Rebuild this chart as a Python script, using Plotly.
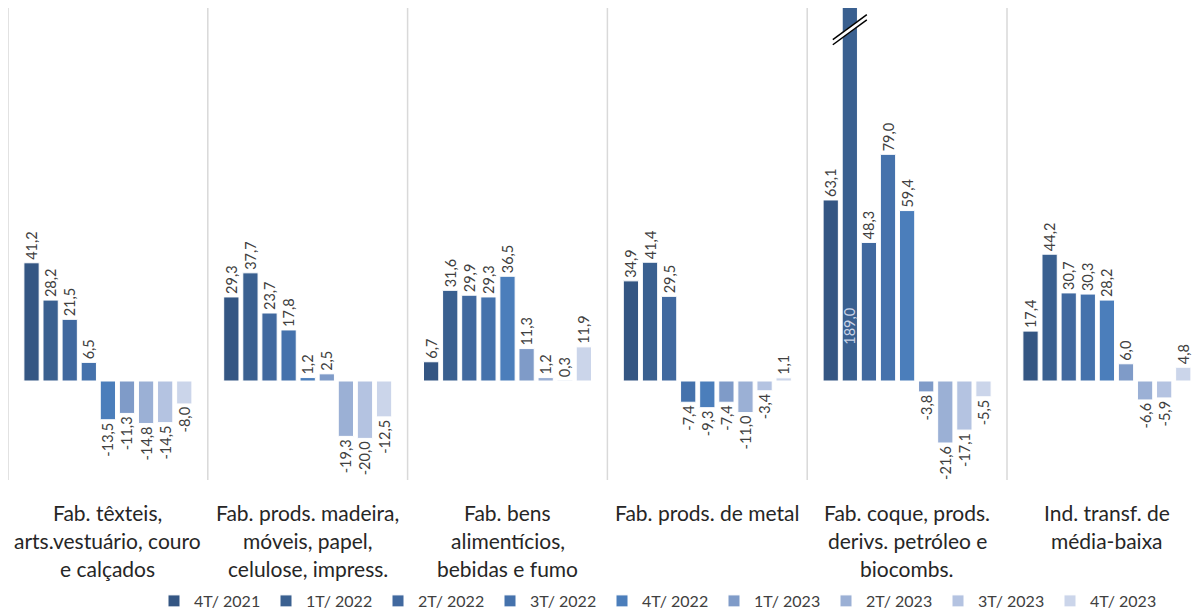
import plotly.graph_objects as go

# Sector categories (line breaks as shown under each group)
categories = [
    "Fab. têxteis,<br>arts.vestuário, couro<br>e calçados",
    "Fab. prods. madeira,<br>móveis, papel,<br>celulose, impress.",
    "Fab. bens<br>alimentícios,<br>bebidas e fumo",
    "Fab. prods. de metal",
    "Fab. coque, prods.<br>derivs. petróleo e<br>biocombs.",
    "Ind. transf. de<br>média-baixa",
]

periods = ["4T/ 2021", "1T/ 2022", "2T/ 2022", "3T/ 2022", "4T/ 2022",
           "1T/ 2023", "2T/ 2023", "3T/ 2023", "4T/ 2023"]

# Values per period, one entry per sector
v_4t21 = [41.2, 29.3, 6.7, 34.9, 63.1, 17.4]
v_1t22 = [28.2, 37.7, 31.6, 41.4, 189.0, 44.2]
v_2t22 = [21.5, 23.7, 29.9, 29.5, 48.3, 30.7]
v_3t22 = [6.5, 17.8, 29.3, -7.4, 79.0, 30.3]
v_4t22 = [-13.5, 1.2, 36.5, -9.3, 59.4, 28.2]
v_1t23 = [-11.3, 2.5, 11.3, -7.4, -3.8, 6.0]
v_2t23 = [-14.8, -19.3, 1.2, -11.0, -21.6, -6.6]
v_3t23 = [-14.5, -20.0, 0.3, -3.4, -17.1, -5.9]
v_4t23 = [-8.0, -12.5, 11.9, 1.1, -5.5, 4.8]

series = [v_4t21, v_1t22, v_2t22, v_3t22, v_4t22, v_1t23, v_2t23, v_3t23, v_4t23]

colors = ["#345683", "#3a6090", "#41699f", "#4572ac", "#4b7ebb",
          "#7f9bc8", "#9bb0d5", "#b4c3e1", "#cbd5ea"]

Y_MIN, Y_MAX = -34.5, 130.0
BARGAP = 0.14
n_series = len(series)
slot = (1 - BARGAP) / n_series


def fmt(v):
    return f"{v:.1f}".replace(".", ",")


x_idx = list(range(len(categories)))
fig = go.Figure()

overflow = []  # (series index, category index, value) for bars beyond the axis
for s, (name, vals, col) in enumerate(zip(periods, series, colors)):
    texts = []
    for c, v in enumerate(vals):
        if v > Y_MAX:
            overflow.append((s, c, v))
            texts.append("")
        else:
            texts.append(fmt(v))
    fig.add_trace(go.Bar(
        name=name, x=x_idx, y=vals,
        marker=dict(color=col, line=dict(color="white", width=1)),
        text=texts, textposition="outside", textangle=-90,
        constraintext="none",
        textfont=dict(family="Lato", size=14.5, color="#404040"),
        cliponaxis=False,
    ))

shapes = []
# Light separators between the sector groups
for k in range(len(categories)):
    shapes.append(dict(type="line", xref="x", yref="paper",
                       x0=k - 0.5, x1=k - 0.5, y0=0, y1=1,
                       line=dict(color="#d9d9d9", width=1.5)))

annotations = []
units_per_px = (Y_MAX - Y_MIN) / 472.0
for s, c, v in overflow:
    xc = c - (1 - BARGAP) / 2 + slot * (s + 0.5)
    # value written inside the clipped bar, near its base
    annotations.append(dict(x=xc, y=19.2, xref="x", yref="y",
                            text=fmt(v), textangle=-90,
                            showarrow=False,
                            font=dict(family="Lato", size=14.5, color="#c9d3e6")))
    # axis-break mark at the top of the clipped bar
    dx = 17 / 199.8
    y_lo, y_hi = 118.1, 126.8
    off = 2.6 * units_per_px
    shapes.append(dict(type="line", xref="x", yref="y",
                       x0=xc - dx, x1=xc + dx, y0=y_lo, y1=y_hi,
                       line=dict(color="white", width=5)))
    for o in (-off, off):
        shapes.append(dict(type="line", xref="x", yref="y",
                           x0=xc - dx, x1=xc + dx, y0=y_lo + o, y1=y_hi + o,
                           line=dict(color="black", width=1.5)))

# Category labels under each group, one line at a time (pixel rows 512, 540, 568)
for k, cat in enumerate(categories):
    for j, line in enumerate(cat.split("<br>")):
        annotations.append(dict(x=k, y=(480 - (512 + 28 * j)) / 472.0,
                                xref="x", yref="paper",
                                text=line, showarrow=False,
                                font=dict(family="Lato", size=21, color="#262626"),
                                xanchor="center", yanchor="middle"))

fig.update_layout(
    width=1200, height=611,
    margin=dict(l=8, r=0, t=8, b=131),
    paper_bgcolor="white", plot_bgcolor="white",
    barmode="group", bargap=BARGAP, bargroupgap=0.2,
    separators=",.",
    xaxis=dict(range=[-0.5, -0.5 + 1192 / 199.8], showticklabels=False,
               showgrid=False, zeroline=False, showline=False, ticks=""),
    yaxis=dict(range=[Y_MIN, Y_MAX], showticklabels=False, showgrid=False,
               zeroline=False, showline=False, ticks=""),
    showlegend=True,
    legend=dict(orientation="h", xref="container", yref="container",
                x=154 / 1200, y=10 / 611, xanchor="left", yanchor="middle",
                entrywidth=67, entrywidthmode="pixels", itemwidth=30,
                font=dict(family="Lato", size=16, color="#404040"),
                bgcolor="rgba(0,0,0,0)"),
    shapes=shapes,
    annotations=annotations,
    font=dict(family="Lato"),
)

fig.write_html("out.html")
